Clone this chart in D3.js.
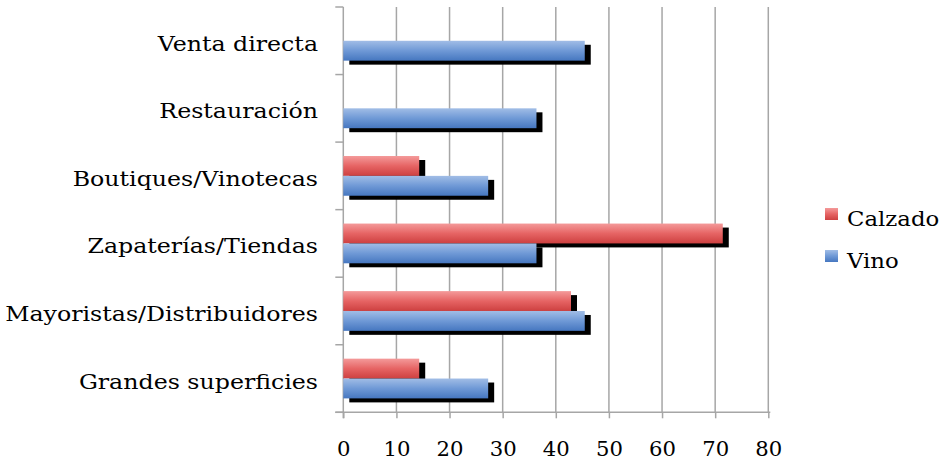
<!DOCTYPE html>
<html><head><meta charset="utf-8">
<script src="https://cdn.jsdelivr.net/npm/d3@7"></script>
<style>body{margin:0;background:#fff}svg{display:block}</style>
</head><body>
<svg id="c" width="942" height="462"></svg>
<script>
const categories = ["Venta directa","Restauración","Boutiques/Vinotecas","Zapaterías/Tiendas","Mayoristas/Distribuidores","Grandes superficies"];
const seriesNames = ["Calzado","Vino"];
const calzado = [0, 0, 14.29, 71.43, 42.86, 14.29];
const vino = [45.45, 36.36, 27.27, 36.36, 45.45, 27.27];
const xTicks = [0,10,20,30,40,50,60,70,80];

(function(){
const svg = d3.select("#c");
const font = "DejaVu Serif";
const pl = 343.3, pr = 768.3, pt = 7, pb = 412.3;
const x = d3.scaleLinear().domain([0,80]).range([pl, pr]);
const y = d3.scaleBand().domain(categories).range([pt, pb]).paddingInner(0).paddingOuter(0);
const inner = d3.scaleBand().domain(seriesNames).range([0, y.bandwidth()]).paddingInner(0).paddingOuter(0.7);

const defs = svg.append("defs");
function grad(id, c1, c2, c3){
  const g = defs.append("linearGradient").attr("id", id).attr("x1",0).attr("y1",0).attr("x2",0).attr("y2",1);
  g.append("stop").attr("offset","0%").attr("stop-color",c1);
  g.append("stop").attr("offset","50%").attr("stop-color",c2);
  g.append("stop").attr("offset","100%").attr("stop-color",c3);
}
grad("gRed","#f49a9a","#e66464","#cd4040");
grad("gBlue","#a1bde6","#6f99d6","#4677c0");
const fills = {Calzado:"url(#gRed)", Vino:"url(#gBlue)"};

svg.append("g").selectAll("line").data(xTicks.slice(1)).join("line")
  .attr("x1", d=>x(d)).attr("x2", d=>x(d)).attr("y1", pt).attr("y2", pb)
  .attr("stroke", "#a6a6a6").attr("stroke-width", 1.5);

const xAxis = d3.axisBottom(x).tickValues(xTicks).tickSize(6).tickPadding(24).tickFormat(d3.format("d"));
const gx = svg.append("g").attr("transform", `translate(0,${pb})`).call(xAxis);
gx.select(".domain").attr("stroke","#a6a6a6").attr("stroke-width",1.5).attr("d", `M${pl-8},0H${pr+2}`);
gx.selectAll(".tick line").attr("stroke","#a6a6a6").attr("stroke-width",1.5);
gx.selectAll(".tick text").attr("font-family", font).attr("font-size", 20).attr("fill","#000")
  .attr("transform","scale(1.06,1)").attr("x", function(){ return 0; });

const yTickPos = d3.range(categories.length+1).map(i => pt + i*y.bandwidth());
svg.append("line").attr("x1", pl).attr("x2", pl).attr("y1", pt).attr("y2", pb+6)
  .attr("stroke","#a6a6a6").attr("stroke-width",1.5);
svg.append("g").selectAll("line").data(yTickPos).join("line")
  .attr("x1", pl-8).attr("x2", pl).attr("y1", d=>d).attr("y2", d=>d)
  .attr("stroke","#a6a6a6").attr("stroke-width",1.5);
svg.append("g").selectAll("text").data(categories).join("text")
  .attr("transform", d => `translate(318,${y(d) + y.bandwidth()/2 + 10}) scale(1.185,1)`)
  .attr("text-anchor","end").attr("font-family", font).attr("font-size", 20).attr("fill","#000")
  .text(d=>d);

const rows = [];
categories.forEach((c,i)=>{
  rows.push({cat:c, s:"Calzado", v:calzado[i]});
  rows.push({cat:c, s:"Vino", v:vino[i]});
});
const shown = rows.filter(r=>r.v>0);
svg.append("g").selectAll("rect").data(shown).join("rect")
  .attr("x", x(0)+6).attr("y", d=>y(d.cat)+inner(d.s)+4)
  .attr("width", d=>x(d.v)-x(0)).attr("height", inner.bandwidth())
  .attr("fill","#000");
svg.append("g").selectAll("rect").data(shown).join("rect")
  .attr("x", x(0)).attr("y", d=>y(d.cat)+inner(d.s))
  .attr("width", d=>x(d.v)-x(0)).attr("height", inner.bandwidth())
  .attr("fill", d=>fills[d.s]);

const lg = svg.append("g").attr("transform","translate(825,208)");
seriesNames.forEach((s,i)=>{
  const g = lg.append("g").attr("transform",`translate(0,${i*42})`);
  g.append("rect").attr("width",13).attr("height",12).attr("fill",fills[s]);
  g.append("text").attr("transform","translate(22,18) scale(1.14,1)").attr("font-family",font).attr("font-size",20).attr("fill","#000").text(s);
});
})();
</script>
</body></html>
